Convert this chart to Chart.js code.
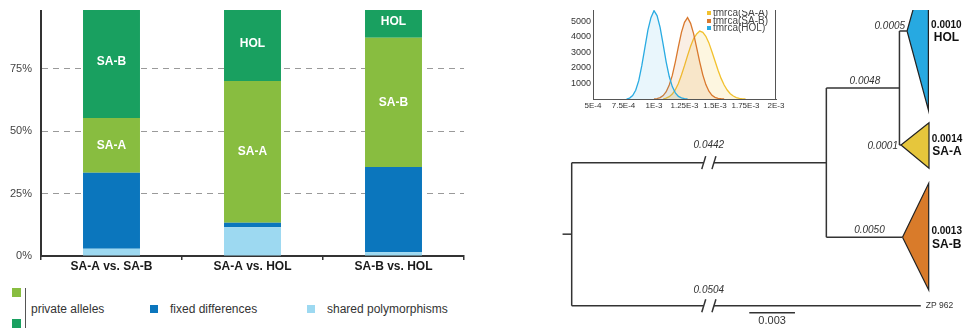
<!DOCTYPE html>
<html><head><meta charset="utf-8">
<script src="https://cdn.jsdelivr.net/npm/chart.js@4.4.1/dist/chart.umd.min.js"></script>
<style>
html,body{margin:0;padding:0;background:#fff;width:967px;height:331px;overflow:hidden;font-family:"Liberation Sans",Arial,sans-serif;}
#clip{position:absolute;left:0;top:10px;width:967px;height:321px;overflow:hidden;background:#fff;}
.box{position:absolute;}
canvas{display:block;}
.sq{position:absolute;}
.lt{position:absolute;font-size:12px;line-height:14px;color:#333;white-space:nowrap;}
.il{position:absolute;font-size:10px;line-height:10px;color:#444;white-space:nowrap;}
</style></head><body>
<div id="clip">
  <div class="box" style="left:0;top:-10px;width:480px;height:280px"><canvas id="bar" width="480" height="280"></canvas></div>
  <div class="box" style="left:540px;top:-10px;width:427px;height:331px"><canvas id="tree" width="427" height="331"></canvas></div>
  <div class="box" style="left:540px;top:-10px;width:245px;height:112px"><canvas id="inset" width="245" height="112"></canvas></div>

  <!-- bar chart legend -->
  <div class="sq" style="left:12px;top:278px;width:9px;height:9px;background:#88bd40"></div>
  <div class="sq" style="left:12px;top:309px;width:9px;height:9px;background:#19a060"></div>
  <div class="sq" style="left:24.5px;top:278px;width:1.5px;height:40px;background:#555"></div>
  <div class="lt" style="left:31px;top:292px">private alleles</div>
  <div class="sq" style="left:150px;top:295px;width:8px;height:8px;background:#0b76bd"></div>
  <div class="lt" style="left:170px;top:292px">fixed differences</div>
  <div class="sq" style="left:307px;top:295px;width:8px;height:8px;background:#9dd9f1"></div>
  <div class="lt" style="left:327px;top:292px">shared polymorphisms</div>

  <!-- inset legend -->
  <div class="sq" style="left:707px;top:1px;width:4px;height:4px;background:#f2c12e"></div>
  <div class="il" style="left:713px;top:-2px">tmrca(SA-A)</div>
  <div class="sq" style="left:707px;top:8.5px;width:4px;height:4px;background:#d9782d"></div>
  <div class="il" style="left:713px;top:5.5px">tmrca(SA-B)</div>
  <div class="sq" style="left:707px;top:16px;width:4px;height:4px;background:#29abe2"></div>
  <div class="il" style="left:713px;top:13px">tmrca(HOL)</div>
</div>
<script>
// ---------- stacked bar data ----------
const categories = ['SA-A vs. SA-B', 'SA-A vs. HOL', 'SA-B vs. HOL'];
const sharedPoly = [2.9, 11.5, 1.5];
const fixedDiff = [30.4, 1.8, 34.1];
const privateLower = [21.9, 56.7, 51.7];
const privateLowerLabels = ['SA-A', 'SA-A', 'SA-B'];
const privateUpper = [44.8, 30.0, 12.7];
const privateUpperLabels = ['SA-B', 'HOL', 'HOL'];
const barYTicks = [0, 25, 50, 75, 100];

// ---------- inset density data (x in units of 1E-3) ----------
const insetX = [0.750,0.775,0.800,0.825,0.850,0.875,0.900,0.925,0.950,0.975,
                1.000,1.025,1.050,1.075,1.100,1.125,1.150,1.175,1.200,1.225,
                1.250,1.275,1.300,1.325,1.350,1.375,1.400,1.425,1.450,1.475,
                1.500,1.525,1.550,1.575,1.600,1.625,1.650,1.675,1.700,1.725,1.750];
const holDensity = [null,0,60,220,560,1180,2150,3300,4450,5250,
                    5700,5380,4620,3520,2380,1450,800,400,170,70,
                    20,0,null,null,null,null,null,null,null,null,
                    null,null,null,null,null,null,null,null,null,null,null];
const sabDensity = [null,null,null,null,null,null,null,null,null,null,
                    0,30,90,220,470,900,1520,2400,3380,4300,
                    4950,5250,4880,4200,3300,2380,1560,930,500,240,
                    110,45,15,0,null,null,null,null,null,null,null];
const saaDensity = [null,null,null,null,null,null,null,null,null,null,
                    null,null,null,0,60,150,320,600,1000,1550,
                    2150,2800,3400,3900,4200,4380,4300,4050,3620,3050,
                    2450,1850,1330,900,580,340,190,95,40,10,0];
const insetXTickVals = [0.0005,0.00075,0.001,0.00125,0.0015,0.00175,0.002];
const insetXTickLabels = ['5E-4','7.5E-4','1E-3','1.25E-3','1.5E-3','1.75E-3','2E-3'];
const insetYTicks = [0,1000,2000,3000,4000,5000,6000];

// ---------- tree data ----------
const cladeNames = ['HOL', 'SA-A', 'SA-B'];
const cladeBranch = [0.0005, 0.0001, 0.0050];
const cladeBranchLabels = ['0.0005', '0.0001', '0.0050'];
const cladeDiversity = ['0.0010', '0.0014', '0.0013'];
const cladeDepth = [0.0014, 0.00184, 0.00172];
const innerBranch = 0.0048, innerBranchLabel = '0.0048';
const stemBranch = 0.0442, stemLabel = '0.0442';
const outBranch = 0.0504, outLabel = '0.0504', outName = 'ZP 962';
const breakCut = 0.02748;          // length removed at the // break
const scaleBarLen = 0.003, scaleBarLabel = '0.003';
// vertical layout of tips (rows)
const cladeApexY = [3.1, 14.5, 23.73];
const cladeTopY = [-4.5, 12.27, 18.33];
const cladeBottomY = [11.0, 16.83, 29.0];
const outTipY = 30.57;

const COL = {lg:'#88bd40', dg:'#19a060', blue:'#0b76bd', lb:'#9dd9f1',
             hol:'#29abe2', sab:'#d9782d', saa:'#f2c12e',
             triHol:'#27a9e1', triSaa:'#e6c63c', triSab:'#d97b2a'};

Chart.defaults.font.family = "'Liberation Sans', Arial, sans-serif";
Chart.defaults.animation = false;

// ---------- bar chart ----------
const barLabelPlugin = {
  id:'barLabels',
  afterDatasetsDraw(chart){
    const ctx = chart.ctx;
    const sets = [[2, privateLowerLabels],[3, privateUpperLabels]];
    ctx.save();
    ctx.fillStyle = '#fff';
    ctx.font = "bold 12px 'Liberation Sans', Arial, sans-serif";
    ctx.textAlign = 'center'; ctx.textBaseline = 'middle';
    sets.forEach(([di, labels]) => {
      chart.getDatasetMeta(di).data.forEach((el, i) => {
        const p = el.getProps(['x','y','base'], true);
        ctx.fillText(labels[i], p.x, (p.y + p.base)/2);
      });
    });
    ctx.restore();
  }
};
new Chart(document.getElementById('bar'), {
  type:'bar',
  data:{ labels: categories, datasets:[
    {label:'shared polymorphisms', data: sharedPoly, backgroundColor: COL.lb},
    {label:'fixed differences', data: fixedDiff, backgroundColor: COL.blue},
    {label:'private alleles 1', data: privateLower, backgroundColor: COL.lg},
    {label:'private alleles 2', data: privateUpper, backgroundColor: COL.dg}
  ]},
  options:{
    responsive:false, devicePixelRatio:1,
    layout:{padding:{top:6, right:16, left:0, bottom:0}},
    datasets:{bar:{barPercentage:0.404, categoryPercentage:1, borderWidth:0}},
    plugins:{legend:{display:false}, tooltip:{enabled:false}},
    scales:{
      x:{stacked:true,
         grid:{display:true, drawOnChartArea:false, drawTicks:true, tickLength:4, color:'#333', lineWidth:1.5, offset:true},
         border:{display:true, color:'#333', width:2},
         ticks:{font:{size:12, weight:'bold'}, color:'#1a1a1a', padding:-1, maxRotation:0},
         afterFit(s){ s.height = 24; s.paddingLeft = 0; s.paddingRight = 0; }},
      y:{stacked:true, min:0, max:100,
         afterBuildTicks(s){ s.ticks = barYTicks.map(v=>({value:v})); },
         ticks:{callback:v=>v+'%', font:{size:11}, color:'#444', padding:9},
         grid:{drawTicks:false, lineWidth:1, color:c => (c.tick && (c.tick.value===25||c.tick.value===50||c.tick.value===75)) ? '#9a9a9a' : 'rgba(0,0,0,0)'},
         border:{display:true, color:'#333', width:2, dash:[6,5]},
         afterFit(s){ s.width = 41; s.paddingTop = 0; s.paddingBottom = 0; }}
    }
  },
  plugins:[barLabelPlugin]
});

// ---------- inset density chart ----------
function series(vals){ return insetX.map((x,i)=>({x:x/1000, y:vals[i]})).filter(p=>p.y!==null); }
const rightBorder = {
  id:'rightBorder',
  afterDraw(chart){
    const a = chart.chartArea, ctx = chart.ctx;
    ctx.save(); ctx.strokeStyle='#555'; ctx.lineWidth=1;
    ctx.beginPath(); ctx.moveTo(a.right-0.5, a.top-10); ctx.lineTo(a.right-0.5, a.bottom); ctx.stroke();
    ctx.restore();
  }
};
new Chart(document.getElementById('inset'), {
  type:'line',
  data:{datasets:[
    {label:'tmrca(HOL)', data:series(holDensity), borderColor:COL.hol, backgroundColor:'rgba(41,171,226,0.10)', fill:'origin'},
    {label:'tmrca(SA-B)', data:series(sabDensity), borderColor:COL.sab, backgroundColor:'rgba(217,120,45,0.13)', fill:'origin'},
    {label:'tmrca(SA-A)', data:series(saaDensity), borderColor:COL.saa, backgroundColor:'rgba(242,193,46,0.15)', fill:'origin'}
  ]},
  options:{
    responsive:false, devicePixelRatio:1,
    layout:{padding:{top:6, right:9, left:0, bottom:0}},
    elements:{point:{radius:0}, line:{borderWidth:1.3, tension:0}},
    plugins:{legend:{display:false}, tooltip:{enabled:false}},
    scales:{
      x:{type:'linear', min:0.0005, max:0.002,
         afterBuildTicks(s){ s.ticks = insetXTickVals.map(v=>({value:v})); },
         ticks:{callback:(v,i)=>insetXTickLabels[i], font:{size:8}, color:'#333', padding:1.5, maxRotation:0, autoSkip:false},
         grid:{display:false, drawTicks:false}, border:{display:true, color:'#555', width:1},
         afterFit(s){ s.height = 13; s.paddingLeft = 0; s.paddingRight = 0; }},
      y:{type:'linear', min:0, max:6000,
         afterBuildTicks(s){ s.ticks = insetYTicks.map(v=>({value:v})); },
         ticks:{callback:v=> v===0 ? '' : String(v), font:{size:9}, color:'#333', padding:2},
         grid:{display:false, drawTicks:false}, border:{display:true, color:'#555', width:1},
         afterFit(s){ s.width = 53; s.paddingTop = 0; s.paddingBottom = 0; }}
    }
  },
  plugins:[rightBorder]
});

// ---------- tree ----------
const ingX = stemBranch - breakCut;
const hsX = ingX + innerBranch;
const apexX = [hsX + cladeBranch[0], hsX + cladeBranch[1], ingX + cladeBranch[2]];
const edgeX = apexX.map((a,i)=>a + cladeDepth[i]);
const outX = outBranch - breakCut;
const hsY = (cladeApexY[0] + cladeApexY[1]) / 2;
const ingY = (hsY + cladeApexY[2]) / 2;
const rootY = (ingY + outTipY) / 2;
const breakA = 0.00867, breakB = 0.00934;   // where the // marks sit
const sbStart = 0.01166, sbY = 31.27;

const BR = {borderColor:'#333', borderWidth:1.5, fill:false, pointRadius:0};
function seg(pts, extra){ return Object.assign({data:pts.map(p=>({x:p[0], y:p[1]}))}, BR, extra||{}); }
const slashDx = 0.00013, slashDy = 0.65;
const treeSets = [
  seg([[-0.0006, rootY],[0, rootY]]),
  seg([[0, ingY],[0, outTipY]]),
  seg([[0, ingY],[breakA, ingY]]), seg([[breakB, ingY],[ingX, ingY]]),
  seg([[0, outTipY],[breakA, outTipY]]), seg([[breakB, outTipY],[outX, outTipY]]),
  seg([[breakA-slashDx, ingY+slashDy],[breakA+slashDx, ingY-slashDy]]),
  seg([[breakB-slashDx, ingY+slashDy],[breakB+slashDx, ingY-slashDy]]),
  seg([[breakA-slashDx, outTipY+slashDy],[breakA+slashDx, outTipY-slashDy]]),
  seg([[breakB-slashDx, outTipY+slashDy],[breakB+slashDx, outTipY-slashDy]]),
  seg([[ingX, hsY],[ingX, cladeApexY[2]]]),
  seg([[ingX, hsY],[hsX, hsY]]),
  seg([[hsX, cladeApexY[0]],[hsX, cladeApexY[1]]]),
  seg([[hsX, cladeApexY[0]],[apexX[0], cladeApexY[0]]]),
  seg([[hsX, cladeApexY[1]],[apexX[1], cladeApexY[1]]]),
  seg([[ingX, cladeApexY[2]],[apexX[2], cladeApexY[2]]]),
  seg([[sbStart, sbY],[sbStart+scaleBarLen, sbY]])
];
const triCols = [COL.triHol, COL.triSaa, COL.triSab];
cladeNames.forEach((n,i)=>{
  treeSets.push({data:[{x:apexX[i],y:cladeApexY[i]},{x:edgeX[i],y:cladeTopY[i]},{x:edgeX[i],y:cladeBottomY[i]},{x:apexX[i],y:cladeApexY[i]}],
    borderColor:'#222', borderWidth:1.2, backgroundColor:triCols[i], fill:'shape', pointRadius:0});
});

const treeText = {
  id:'treeText',
  afterDatasetsDraw(chart){
    const ctx = chart.ctx, xs = chart.scales.x, ys = chart.scales.y;
    const px = v => xs.getPixelForValue(v), py = v => ys.getPixelForValue(v);
    const F = "'Liberation Sans', Arial, sans-serif";
    ctx.save();
    ctx.fillStyle = '#333'; ctx.textBaseline = 'middle';
    ctx.font = 'italic 10px ' + F; ctx.textAlign = 'center';
    ctx.fillText(stemLabel, px((breakA+breakB)/2), py(ingY) - 17);
    ctx.fillText(outLabel, px((breakA+breakB)/2), py(outTipY) - 15);
    ctx.fillText(innerBranchLabel, (px(ingX)+px(hsX))/2 + 2, py(hsY) - 7);
    ctx.fillText(cladeBranchLabels[2], (px(ingX)+px(apexX[2]))/2 + 5, py(cladeApexY[2]) - 7);
    ctx.textAlign = 'right';
    ctx.fillText(cladeBranchLabels[0], px(apexX[0]) - 2, py(cladeApexY[0]) - 5);
    ctx.fillText(cladeBranchLabels[1], px(apexX[1]) - 3, py(cladeApexY[1]) + 1.5);
    ctx.textAlign = 'center'; ctx.fillStyle = '#111';
    cladeNames.forEach((n,i)=>{
      const cx = px(edgeX[i]) + 18;
      ctx.font = 'bold 10px ' + F;
      ctx.fillText(cladeDiversity[i], cx, py(cladeApexY[i]) - 6);
      ctx.font = 'bold 12px ' + F;
      ctx.fillText(n, cx, py(cladeApexY[i]) + 7);
    });
    ctx.fillStyle = '#333';
    ctx.font = '8.5px ' + F; ctx.textAlign = 'left';
    ctx.fillText(outName, px(outX) + 5, py(outTipY) - 0.5);
    ctx.font = '11px ' + F; ctx.textAlign = 'center';
    ctx.fillText(scaleBarLabel, px(sbStart + scaleBarLen/2), py(sbY) + 8.5);
    ctx.restore();
  }
};
new Chart(document.getElementById('tree'), {
  type:'line',
  data:{datasets:treeSets},
  options:{
    responsive:false, devicePixelRatio:1,
    layout:{padding:0},
    plugins:{legend:{display:false}, tooltip:{enabled:false}},
    elements:{line:{tension:0}},
    scales:{
      x:{type:'linear', display:false, min:-0.002081, max:0.025955},
      y:{type:'linear', display:false, min:0, max:33.1, reverse:true}
    }
  },
  plugins:[treeText]
});
</script>
</body></html>
